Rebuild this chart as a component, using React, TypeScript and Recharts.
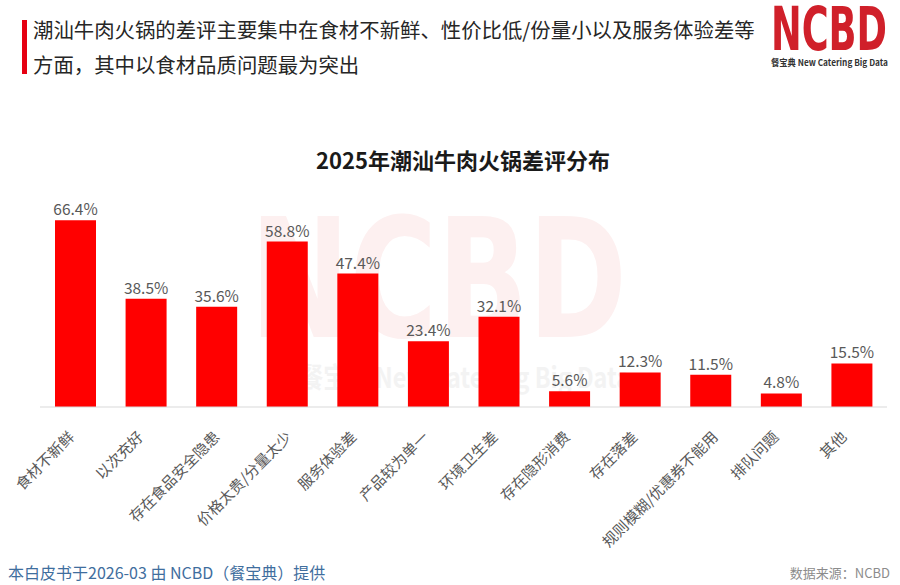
import { BarChart, Bar, XAxis, YAxis, LabelList } from "recharts";

const categories = [
  "食材不新鲜",
  "以次充好",
  "存在食品安全隐患",
  "价格太贵/分量太少",
  "服务体验差",
  "产品较为单一",
  "环境卫生差",
  "存在隐形消费",
  "存在落差",
  "规则模糊/优惠券不能用",
  "排队问题",
  "其他",
];
const shares = [66.4, 38.5, 35.6, 58.8, 47.4, 23.4, 32.1, 5.6, 12.3, 11.5, 4.8, 15.5];

const headline = [
  "潮汕牛肉火锅的差评主要集中在食材不新鲜、性价比低/份量小以及服务体验差等",
  "方面，其中以食材品质问题最为突出",
];
const chartTitle = "2025年潮汕牛肉火锅差评分布";
const footerLeft = "本白皮书于2026-03 由 NCBD（餐宝典）提供";
const footerRight = "数据来源：NCBD";

const FONT = '"Noto Sans CJK SC", "Noto Sans", sans-serif';
const RED = "#FF0000";

const data = categories.map((name, i) => ({ name, value: shares[i] }));

// rotated category labels, longer ones sit a little further right (like Excel)
function AngledTick(props: any) {
  const { x, y, payload } = props;
  const n = String(payload.value).length;
  const ax = x + 1.4 * n - 7;
  const ay = y + 23;
  return (
    <text
      x={ax}
      y={ay}
      transform={`rotate(-45, ${ax}, ${ay})`}
      textAnchor="end"
      fontSize={15}
      fill="#595959"
      fontFamily={FONT}
    >
      {payload.value}
    </text>
  );
}

export default function App() {
  return (
    <div style={{ position: "absolute", left: 0, top: 0, width: 900, height: 585, background: "#fff", fontFamily: FONT }}>
      <svg width={900} height={585} style={{ position: "absolute", left: 0, top: 0 }}>
        {/* header */}
        <rect x={22} y={20} width={5} height={54} fill="#E60012" />
        <text x={33} y={38} fontSize={20.4} fill="#262626" fontFamily={FONT}>
          {headline[0]}
        </text>
        <text x={33} y={73} fontSize={20.4} fill="#262626" fontFamily={FONT}>
          {headline[1]}
        </text>
        {/* logo */}
        <text
          x={771}
          y={50}
          fontSize={60}
          fontWeight="bold"
          fill="#D0202A"
          fontFamily='"DejaVu Sans Condensed", "Liberation Sans Narrow", sans-serif'
          textLength={116}
          lengthAdjust="spacingAndGlyphs"
        >
          NCBD
        </text>
        <text
          x={771}
          y={66}
          fontSize={9}
          fontWeight="bold"
          fill="#333"
          fontFamily={FONT}
          textLength={117}
          lengthAdjust="spacingAndGlyphs"
        >
          餐宝典 New Catering Big Data
        </text>
        {/* watermark */}
        <text
          x={250}
          y={337}
          fontSize={166}
          fontWeight="bold"
          fill="#FDF0F0"
          fontFamily='"DejaVu Sans Condensed", sans-serif'
          textLength={377}
          lengthAdjust="spacingAndGlyphs"
        >
          NCBD
        </text>
        <text
          x={300}
          y={388}
          fontSize={28}
          fontWeight="bold"
          fill="#F3F3F3"
          fontFamily={FONT}
          textLength={330}
          lengthAdjust="spacingAndGlyphs"
        >
          餐宝典 New Catering Big Data
        </text>
        {/* title */}
        <text x={463} y={169} fontSize={22} fontWeight="bold" fill="#1a1a1a" textAnchor="middle" fontFamily={FONT}>
          {chartTitle}
        </text>
        {/* footer */}
        <text x={8} y={579} fontSize={16} fill="#3F6E9E" fontFamily={FONT}>
          {footerLeft}
        </text>
        <text x={890} y={578} fontSize={13} fill="#8C8C8C" textAnchor="end" fontFamily={FONT}>
          {footerRight}
        </text>
      </svg>
      <div style={{ position: "absolute", left: 0, top: 0 }}>
        <BarChart width={900} height={585} data={data} margin={{ top: 210, right: 13, left: 40, bottom: 0 }}>
          <XAxis
            dataKey="name"
            interval={0}
            height={178}
            tickLine={false}
            axisLine={{ stroke: "#D9D9D9" }}
            tick={<AngledTick />}
          />
          <YAxis hide domain={[0, 70]} />
          <Bar dataKey="value" fill={RED} barSize={41} isAnimationActive={false}>
            <LabelList
              dataKey="value"
              position="top"
              offset={5}
              formatter={(v: any) => `${v}%`}
              fontSize={15.5}
              fill="#595959"
              fontFamily={FONT}
            />
          </Bar>
        </BarChart>
      </div>
    </div>
  );
}
